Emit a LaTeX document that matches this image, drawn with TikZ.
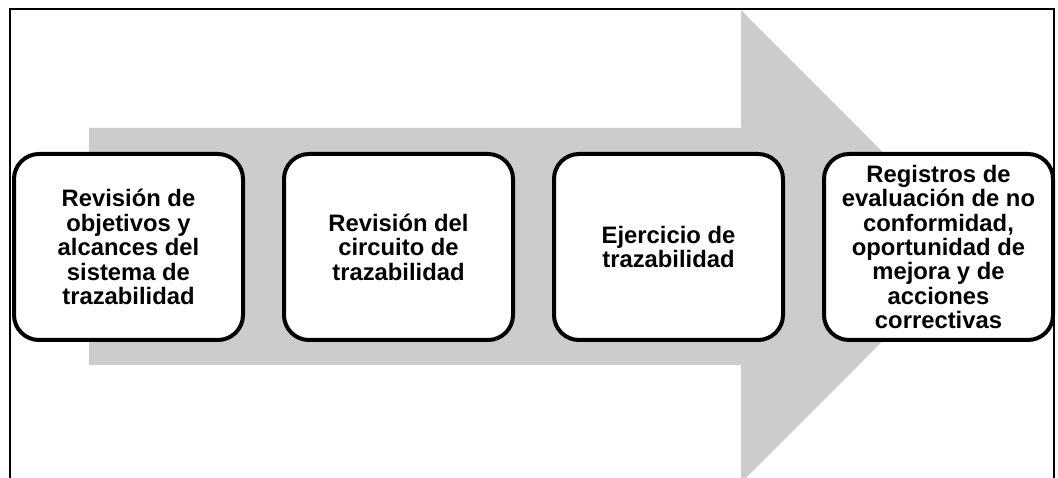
\documentclass[tikz,border=0pt]{standalone}
\usepackage{fontspec}
\setmainfont{Liberation Sans}
\usetikzlibrary{positioning}
\definecolor{arrowgray}{RGB}{204,204,204}

\begin{document}
\begin{tikzpicture}[x=1pt,y=-1pt,
	step box/.style={draw,line width=4pt,rounded corners=25pt,fill=white,
		minimum width=229pt,minimum height=186pt,align=center,
		font=\fontsize{23.8}{24.4}\selectfont\bfseries},
	node distance=37pt]
\useasboundingbox (0,0) rectangle (1058,478);

% big arrow behind the steps
\fill[arrowgray] (89,128) -- (741,128) -- (741,10) -- (977,246.5)
	-- (741,483) -- (741,365) -- (89,365) -- cycle;

% frame
\draw[line width=1.3pt] (10,478) -- (10,9) -- (1054,9) -- (1054,478);

\node[step box] (revobj) at (128.5,247) {Revisión de\\objetivos y\\alcances del\\sistema de\\trazabilidad};
\node[step box,right=of revobj] (revcirc) {Revisión del\\circuito de\\trazabilidad};
\node[step box,right=of revcirc] (ejerc) {Ejercicio de\\trazabilidad};
\node[step box,right=of ejerc] (regist) {Registros de\\evaluación de no\\conformidad,\\oportunidad de\\mejora y de\\acciones\\correctivas};
\end{tikzpicture}
\end{document}
